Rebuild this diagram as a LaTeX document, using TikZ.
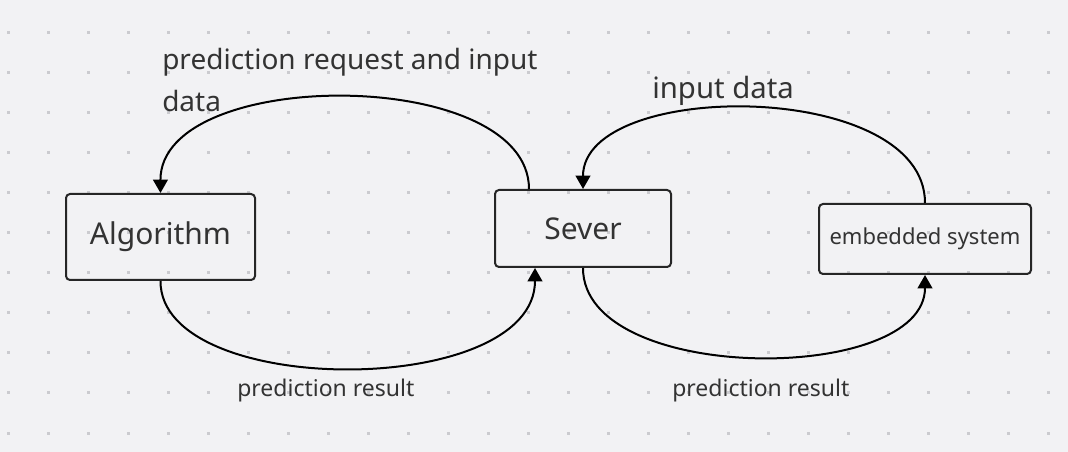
\documentclass[tikz,border=0pt]{standalone}
\usepackage{fontspec}
\setmainfont{Noto Sans}
\usetikzlibrary{arrows.meta}
\definecolor{bg}{HTML}{F2F2F4}
\definecolor{griddot}{HTML}{CBCBCF}
\definecolor{ink}{HTML}{333333}
\begin{document}
\begin{tikzpicture}[x=0.75pt,y=-0.75pt,
  box/.style={draw=black!85, line width=1.5pt, rounded corners=3pt, inner sep=0pt, text=ink},
  flow/.style={line width=1.5pt, -{Triangle[width=11pt,length=10pt]}},
  lbl/.style={text=ink, inner sep=0pt, anchor=base west}]
  \fill[bg] (0,0) rectangle (1068,452);
  \useasboundingbox (0,0) rectangle (1068,452);
  \foreach \i in {0,...,26}
    \foreach \j in {0,...,10}
      \fill[griddot] (6.5+40*\i,31.5+40*\j) rectangle ++(3,3);

  \node[box, minimum width=141.75pt, minimum height=64.5pt,
    font=\fontsize{22.5pt}{27pt}\selectfont] (alg) at (160.5,237) {Algorithm};
  \node[box, minimum width=132pt, minimum height=57.75pt,
    font=\fontsize{22.5pt}{27pt}\selectfont] (srv) at (583,228.5) {Sever};
  \node[box, minimum width=159pt, minimum height=52.5pt,
    font=\fontsize{16.5pt}{20pt}\selectfont] (emb) at (925,239) {embedded system};

  \draw[flow] ([xshift=-40.5pt]srv.north) .. controls (529,66) and (160,66) .. (alg.north);
  \draw[flow] (emb.north) .. controls (925,79) and (583,79) .. (srv.north);
  \draw[flow] (alg.south) .. controls (160,399) and (535,399) .. ([xshift=-36pt]srv.south);
  \draw[flow] (srv.south) .. controls (583,385) and (925,385) .. (emb.south);

  \node[lbl, align=left, font=\fontsize{21pt}{31.5pt}\selectfont] (req) at (162,112)
    {prediction request and input\\data};
  \node[lbl, font=\fontsize{22pt}{26pt}\selectfont] (inp) at (652,99) {input data};
  \node[lbl, font=\fontsize{17.25pt}{21pt}\selectfont] (res1) at (237,397) {prediction result};
  \node[lbl, font=\fontsize{17.25pt}{21pt}\selectfont] (res2) at (672,397) {prediction result};
\end{tikzpicture}
\end{document}
